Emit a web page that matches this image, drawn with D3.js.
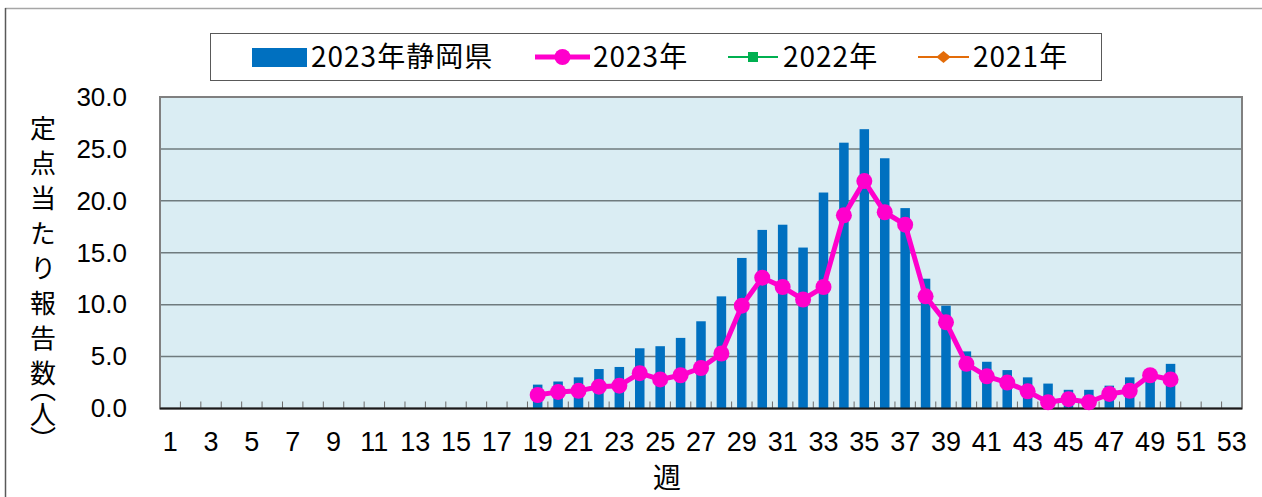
<!DOCTYPE html>
<html>
<head>
<meta charset="utf-8">
<script src="https://cdn.jsdelivr.net/npm/d3@7"></script>
<style>
  body { margin: 0; background: #fff; }
  svg { display: block; font-family: "Noto Sans CJK JP", "Liberation Sans", sans-serif; }
</style>
</head>
<body>
<div class="chart"></div>
<script>
// weeks 1..53 on the x axis
const weeks = d3.range(1, 54);
const tickWeeks = weeks.filter((w) => w % 2 === 1);
const yTicks = [0, 5, 10, 15, 20, 25, 30];

// 2023 Shizuoka (bars), weeks 19-50
const barWeeks = d3.range(19, 51);
const shizuoka2023 = [
  2.3, 2.6, 3.0, 3.8, 4.0, 5.8, 6.0, 6.8, 8.4, 10.8, 14.5, 17.2, 17.7, 15.5,
  20.8, 25.6, 26.9, 24.1, 19.3, 12.5, 9.9, 5.5, 4.5, 3.7, 3.0, 2.4, 1.8, 1.8,
  2.2, 3.0, 3.3, 4.3,
];
// 2023 line, weeks 19-50
const line2023 = [
  1.3, 1.6, 1.7, 2.1, 2.2, 3.4, 2.8, 3.2, 3.9, 5.3, 9.9, 12.6, 11.7, 10.5,
  11.7, 18.6, 21.9, 18.9, 17.7, 10.8, 8.3, 4.3, 3.1, 2.5, 1.65, 0.6, 0.9, 0.6,
  1.4, 1.7, 3.2, 2.8,
];
// no points drawn for these years in the picture
const line2022 = [];
const line2021 = [];

const legendLabels = ["2023年静岡県", "2023年", "2022年", "2021年"];
const yTitle = "定点当たり報告数";
const yUnit = "（人）";
const xTitle = "週";

const width = 1262,
  height = 497;
const plot = { left: 160, right: 1242, top: 97, bottom: 408.5 };

const svg = d3
  .select(".chart")
  .append("svg")
  .attr("width", width)
  .attr("height", height);

// outer frame
svg.append("line").attr("x1", 5).attr("x2", width).attr("y1", 8.5).attr("y2", 8.5)
  .attr("stroke", "#a6a6a6").attr("stroke-width", 1.5);
svg.append("line").attr("x1", 5.5).attr("x2", 5.5).attr("y1", 8).attr("y2", height)
  .attr("stroke", "#595959").attr("stroke-width", 1.5);

const x = d3.scaleBand().domain(weeks).range([plot.left, plot.right]).padding(0);
const y = d3.scaleLinear().domain([0, 30]).range([plot.bottom, plot.top]);

// plot background
svg.append("rect")
  .attr("x", plot.left).attr("y", plot.top)
  .attr("width", plot.right - plot.left).attr("height", plot.bottom - plot.top)
  .attr("fill", "#daedf3");

// gridlines
svg.append("g")
  .selectAll("line")
  .data(yTicks.filter((t) => t > 0 && t < 30))
  .join("line")
  .attr("x1", plot.left).attr("x2", plot.right)
  .attr("y1", (d) => y(d)).attr("y2", (d) => y(d))
  .attr("stroke", "#6f7b7e").attr("stroke-width", 1.5);

// plot border
svg.append("rect")
  .attr("x", plot.left).attr("y", plot.top)
  .attr("width", plot.right - plot.left).attr("height", plot.bottom - plot.top)
  .attr("fill", "none").attr("stroke", "#808080").attr("stroke-width", 2);

// small inner ticks at week boundaries
svg.append("g")
  .selectAll("line")
  .data(weeks.slice(1))
  .join("line")
  .attr("x1", (d) => x(d)).attr("x2", (d) => x(d))
  .attr("y1", plot.bottom).attr("y2", plot.bottom - 7)
  .attr("stroke", "#6b6b6b").attr("stroke-width", 1);

// bars
const barW = 9.5;
svg.append("g")
  .selectAll("rect")
  .data(barWeeks.map((w, i) => ({ week: w, value: shizuoka2023[i] })))
  .join("rect")
  .attr("x", (d) => x(d.week) + x.bandwidth() / 2 - barW / 2)
  .attr("y", (d) => y(d.value))
  .attr("width", barW)
  .attr("height", (d) => y(0) - y(d.value))
  .attr("fill", "#0070c0");

// bottom axis line
svg.append("line")
  .attr("x1", plot.left).attr("x2", plot.right)
  .attr("y1", plot.bottom).attr("y2", plot.bottom)
  .attr("stroke", "#1a1a1a").attr("stroke-width", 2);

// 2023 line
const pts = barWeeks.map((w, i) => ({ week: w, value: line2023[i] }));
const lineGen = d3.line()
  .x((d) => x(d.week) + x.bandwidth() / 2)
  .y((d) => y(d.value));
svg.append("path")
  .datum(pts)
  .attr("d", lineGen)
  .attr("fill", "none")
  .attr("stroke", "#ff00cc")
  .attr("stroke-width", 5)
  .attr("stroke-linejoin", "round");
svg.append("g")
  .selectAll("circle")
  .data(pts)
  .join("circle")
  .attr("cx", (d) => x(d.week) + x.bandwidth() / 2)
  .attr("cy", (d) => y(d.value))
  .attr("r", 8)
  .attr("fill", "#ff00cc");

// 2022 / 2021 (empty)
svg.append("path").datum(line2022.map((v, i) => ({ week: i + 1, value: v })))
  .attr("d", lineGen).attr("fill", "none").attr("stroke", "#00b050").attr("stroke-width", 2);
svg.append("path").datum(line2021.map((v, i) => ({ week: i + 1, value: v })))
  .attr("d", lineGen).attr("fill", "none").attr("stroke", "#e36c09").attr("stroke-width", 2);

// y axis labels
const yAxis = svg.append("g")
  .attr("transform", "translate(" + plot.left + ",0)")
  .call(d3.axisLeft(y).tickValues(yTicks).tickSize(0).tickPadding(33).tickFormat(d3.format(".1f")));
yAxis.select(".domain").remove();
yAxis.selectAll("text").style("font-size", "26px").attr("fill", "#000")
  .style("font-family", "'Liberation Sans', sans-serif");

// x axis labels
const xAxis = svg.append("g")
  .attr("transform", "translate(0," + plot.bottom + ")")
  .call(d3.axisBottom(x).tickValues(tickWeeks).tickSize(0).tickPadding(23));
xAxis.select(".domain").remove();
xAxis.selectAll("text").style("font-size", "27px").attr("fill", "#000")
  .style("font-family", "'Liberation Sans', sans-serif");

// axis titles
svg.append("text")
  .attr("x", 667).attr("y", 488)
  .attr("text-anchor", "middle")
  .style("font-size", "28px")
  .text(xTitle);

svg.append("text")
  .attr("x", 43).attr("y", 115)
  .style("writing-mode", "vertical-rl")
  .style("font-size", "26px")
  .style("letter-spacing", "9px")
  .text(yTitle);
svg.append("text")
  .attr("x", 43).attr("y", 388)
  .style("writing-mode", "vertical-rl")
  .style("font-size", "26px")
  .style("font-feature-settings", "'vpal' 1")
  .text(yUnit);

// legend
svg.append("rect")
  .attr("x", 210.5).attr("y", 33.5).attr("width", 891).attr("height", 47)
  .attr("fill", "#fff").attr("stroke", "#595959").attr("stroke-width", 1);

const ly = 57;
svg.append("rect").attr("x", 252).attr("y", 48).attr("width", 55).attr("height", 19).attr("fill", "#0070c0");

svg.append("line").attr("x1", 535).attr("x2", 590).attr("y1", ly).attr("y2", ly)
  .attr("stroke", "#ff00cc").attr("stroke-width", 5);
svg.append("circle").attr("cx", 562.5).attr("cy", ly).attr("r", 8).attr("fill", "#ff00cc");

svg.append("line").attr("x1", 728).attr("x2", 778).attr("y1", ly).attr("y2", ly)
  .attr("stroke", "#00b050").attr("stroke-width", 2);
svg.append("rect").attr("x", 748).attr("y", ly - 5).attr("width", 10).attr("height", 10).attr("fill", "#00b050");

svg.append("line").attr("x1", 918).attr("x2", 969).attr("y1", ly).attr("y2", ly)
  .attr("stroke", "#e36c09").attr("stroke-width", 2);
svg.append("path").attr("d", d3.symbol(d3.symbolDiamond2, 110)())
  .attr("transform", "translate(943.5," + ly + ") scale(1.1,0.9)")
  .attr("fill", "#e36c09");

const legendX = [311, 593, 783, 973];
svg.append("g")
  .selectAll("text")
  .data(legendLabels)
  .join("text")
  .attr("x", (d, i) => legendX[i])
  .attr("y", ly + 10)
  .style("font-size", "28px")
  .style("letter-spacing", "1px")
  .text((d) => d);
</script>
</body>
</html>
